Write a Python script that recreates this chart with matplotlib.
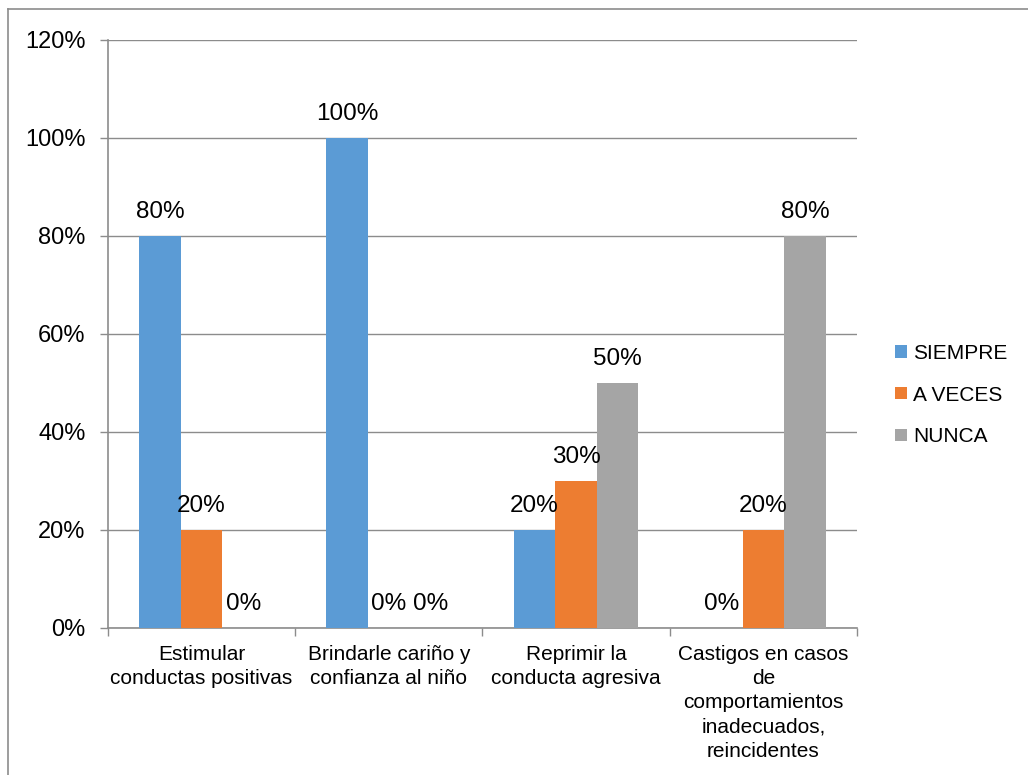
import matplotlib.pyplot as plt
from matplotlib.lines import Line2D
from matplotlib.ticker import PercentFormatter
import numpy as np

plt.rcParams['font.family'] = ['Liberation Sans', 'DejaVu Sans']

# Data
categories = ["Estimular\nconductas positivas",
              "Brindarle cariño y\nconfianza al niño",
              "Reprimir la\nconducta agresiva",
              "Castigos en casos\nde\ncomportamientos\ninadecuados,\nreincidentes"]
series_names = ["SIEMPRE", "A VECES", "NUNCA"]
siempre = [80, 100, 20, 0]
a_veces = [20, 0, 30, 20]
nunca = [0, 0, 50, 80]
colors = ["#5B9BD5", "#ED7D31", "#A5A5A5"]

fig = plt.figure(figsize=(10.28, 7.75), dpi=100)
ax = fig.add_axes([0.105, 0.1897, 0.7286, 0.7587])

x = np.arange(len(categories))
width = 0.222
for i, (vals, name) in enumerate(zip([siempre, a_veces, nunca], series_names)):
    pos = x + (i - 1) * width
    ax.bar(pos, vals, width, color=colors[i], label=name, zorder=3)
    for px, v in zip(pos, vals):
        ax.annotate(f"{v}%", (px, v), xytext=(0, 17), textcoords="offset points",
                    ha="center", va="center", fontsize=17.5, color="black", zorder=4)

ax.set_xlim(-0.5, len(categories) - 0.5)
ax.set_ylim(0, 120)
ax.set_yticks(range(0, 121, 20))
ax.yaxis.set_major_formatter(PercentFormatter(decimals=0))
ax.grid(axis="y", color="#8C8C8C", linewidth=1, zorder=0)

ax.set_xticks(x)
ax.set_xticklabels(categories, fontsize=15, linespacing=1.35)
ax.set_xticks(np.arange(-0.5, len(categories), 1), minor=True)
ax.tick_params(axis="x", which="major", length=0, pad=12)
ax.tick_params(axis="x", which="minor", length=6, color="#8C8C8C", width=1)
ax.tick_params(axis="y", length=6, color="#8C8C8C", width=1, labelsize=17, pad=10)

for s in ["top", "right"]:
    ax.spines[s].set_visible(False)
for s in ["left", "bottom"]:
    ax.spines[s].set_color("#8C8C8C")
    ax.spines[s].set_linewidth(1.2)

ax.legend(loc="center left", bbox_to_anchor=(0.871, 0.4903), bbox_transform=fig.transFigure,
          frameon=False, fontsize=15, handlelength=0.55, handleheight=0.55,
          handletextpad=0.3, labelspacing=1.1, borderpad=0, borderaxespad=0)

# outer chart border
fig.add_artist(Line2D([8 / 1028, 8 / 1028], [0, 1 - 9 / 775], transform=fig.transFigure,
                      color="#8C8C8C", linewidth=1.2))
fig.add_artist(Line2D([8 / 1028, 1], [1 - 9 / 775, 1 - 9 / 775], transform=fig.transFigure,
                      color="#8C8C8C", linewidth=1.2))

fig.savefig("out.png", dpi=100)
